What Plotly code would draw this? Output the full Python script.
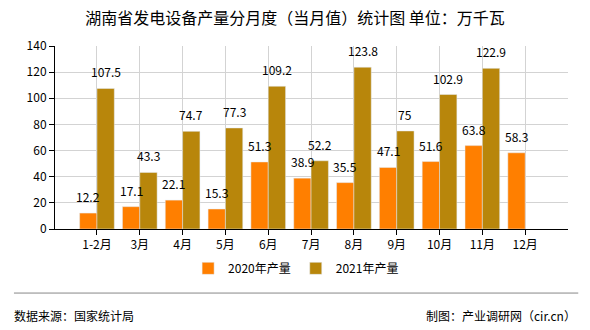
import plotly.graph_objects as go

categories = ["1-2月", "3月", "4月", "5月", "6月", "7月", "8月", "9月", "10月", "11月", "12月"]
values_2020 = [12.2, 17.1, 22.1, 15.3, 51.3, 38.9, 35.5, 47.1, 51.6, 63.8, 58.3]
values_2021 = [107.5, 43.3, 74.7, 77.3, 109.2, 52.2, 123.8, 75, 102.9, 122.9, None]
y_ticks = [0, 20, 40, 60, 80, 100, 120, 140]

FONT = "SimSun, Noto Sans CJK SC, sans-serif"

def fmt(v):
    return "" if v is None else ("%g" % v)

fig = go.Figure()
fig.add_trace(go.Bar(x=categories, y=values_2020, name="2020年产量", marker_color="#FF7F00"))
fig.add_trace(go.Bar(x=categories, y=values_2021, name="2021年产量", marker_color="#B8860B"))

annotations = []
for series, shift in ((values_2020, -8.7), (values_2021, 8.7)):
    for c, v in zip(categories, series):
        if v is None:
            continue
        annotations.append(dict(x=c, y=v, xref="x", yref="y", text=fmt(v), showarrow=False,
                                xanchor="center", yanchor="bottom", xshift=shift, yshift=6,
                                font=dict(size=12, color="#000", family=FONT)))

annotations += [
    dict(text="数据来源：国家统计局", xref="paper", yref="paper", x=-0.083, y=-0.47,
         xanchor="left", yanchor="middle", showarrow=False, font=dict(size=12, family=FONT)),
    dict(text="制图：产业调研网（cir.cn）", xref="paper", yref="paper", x=1.02, y=-0.47,
         xanchor="right", yanchor="middle", showarrow=False, font=dict(size=12, family=FONT)),
]

fig.update_layout(
    width=590, height=330,
    margin=dict(l=55, r=22, t=46, b=101),
    paper_bgcolor="white", plot_bgcolor="white",
    barmode="group", bargap=0.19, bargroupgap=0,
    font=dict(family=FONT, size=12, color="#000"),
    title=dict(text="湖南省发电设备产量分月度（当月值）统计图 单位：万千瓦",
               x=0.5, xanchor="center", y=0.945, yanchor="middle",
               font=dict(size=16, color="#000", family=FONT)),
    legend=dict(orientation="h", x=0.47, xanchor="center", y=-0.215, yanchor="middle",
                font=dict(size=12, family=FONT), traceorder="normal"),
    xaxis=dict(type="category", range=[-0.98, 11.0], showgrid=True, gridcolor="#D3D3D3",
               showline=True, linecolor="#000", linewidth=1,
               ticks="outside", ticklen=5, tickcolor="#000",
               tickfont=dict(size=12, family=FONT)),
    yaxis=dict(range=[0, 140], tickvals=y_ticks, showgrid=True, gridcolor="#D3D3D3",
               showline=True, linecolor="#000", linewidth=1,
               ticks="outside", ticklen=5, tickcolor="#000",
               tickfont=dict(size=12, family=FONT), zeroline=False),
    shapes=[dict(type="line", xref="paper", yref="paper", x0=-0.08, x1=1.02,
                 y0=-0.35, y1=-0.35, line=dict(color="#888", width=1))],
    annotations=annotations,
)

fig.write_html("out.html")
